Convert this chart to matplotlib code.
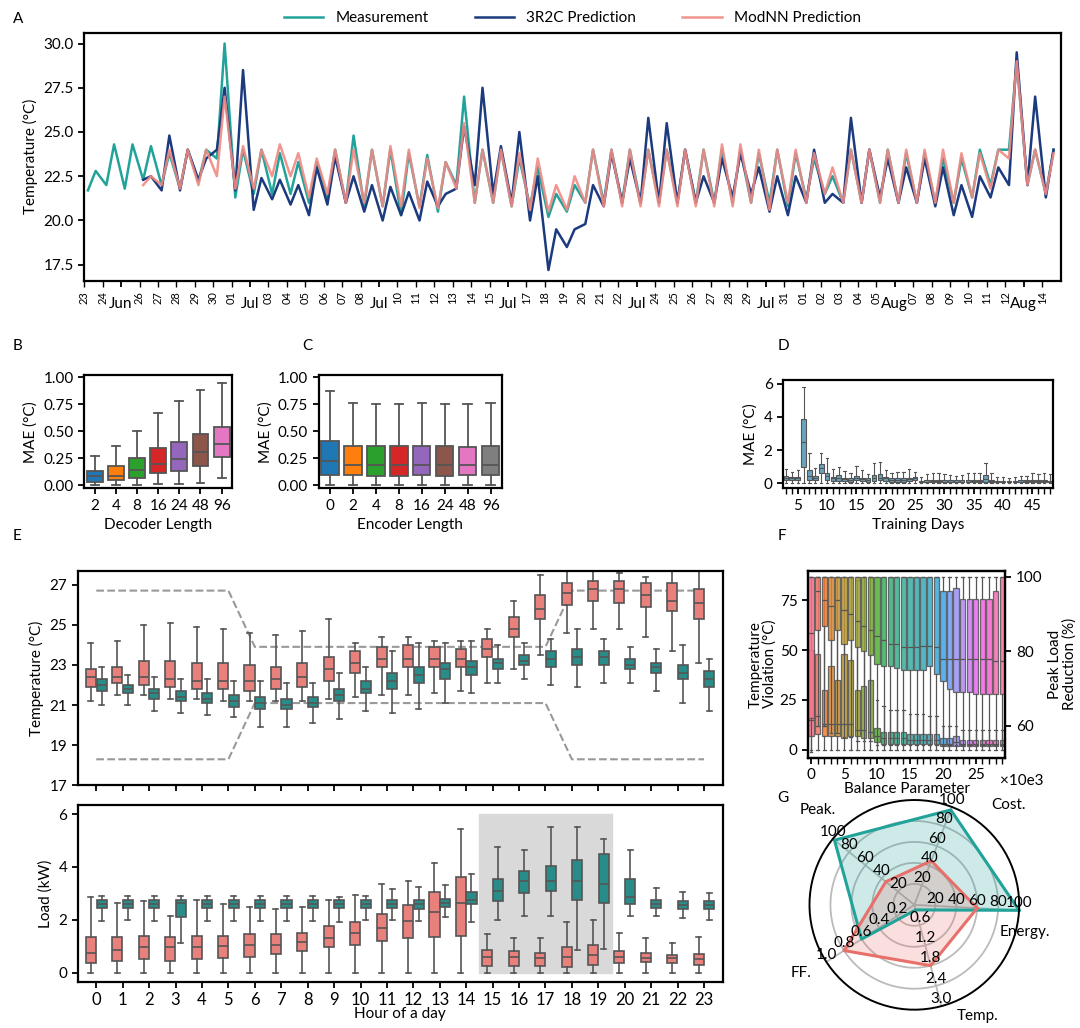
import numpy as np
import pandas as pd
import matplotlib
matplotlib.use("Agg")
import matplotlib.pyplot as plt
import seaborn as sns

plt.rcParams['font.family'] = ['Lato', 'DejaVu Sans']
plt.rcParams['font.size'] = 11

# ---------------- data ----------------
dates = pd.date_range("2023-06-23", "2023-08-14", freq="D")

# daily (min, max) of each series, from Jun 23
meas_min = [21.7, 22.0, 21.8, 22.3, 22.0, 21.8, 22.2, 23.5, 21.3, 21.5, 21.5, 21.5, 21.0, 21.2, 21.0, 20.8,
            20.8, 20.3, 20.8, 20.5, 22.0, 21.0, 21.0, 20.8, 20.8, 20.2, 20.5, 21.0, 21.0, 21.0, 21.0, 21.0,
            21.0, 21.0, 21.0, 21.0, 21.0, 21.0, 20.8, 21.2, 21.5, 21.0, 21.0, 21.0, 21.0, 21.0, 21.0, 21.0,
            21.3, 22.0, 24.0, 22.0, 21.5]
meas_max = [22.8, 24.3, 24.3, 24.2, 23.8, 24.0, 24.0, 30.0, 24.0, 24.0, 23.8, 23.3, 23.3, 24.0, 24.8, 24.0,
            24.0, 23.8, 23.7, 23.3, 27.0, 24.0, 24.0, 23.5, 23.0, 21.5, 22.0, 24.0, 24.0, 24.0, 24.0, 24.0,
            24.0, 24.0, 24.0, 24.0, 23.8, 24.0, 23.8, 23.5, 22.5, 24.0, 24.0, 24.0, 23.8, 23.8, 23.5, 23.5,
            24.0, 24.0, 29.0, 24.0, 24.0]
r2c_min = [None, None, None, 22.3, 21.7, 21.7, 22.3, 24.0, 21.7, 20.6, 21.2, 20.9, 20.3, 20.9, 21.0, 20.5,
           20.0, 20.3, 20.0, 20.8, 21.8, 22.0, 21.5, 21.0, 20.0, 17.2, 18.5, 19.8, 20.8, 21.0, 21.0, 21.0,
           21.0, 21.0, 21.0, 21.3, 21.5, 20.5, 20.3, 21.0, 21.0, 21.0, 21.0, 21.3, 21.0, 21.0, 20.8, 20.3,
           20.2, 21.3, 22.0, 22.0, 21.3]
r2c_max = [None, None, None, 22.5, 24.8, 24.0, 23.5, 27.5, 28.5, 22.4, 22.3, 22.0, 23.0, 23.6, 22.5, 22.0,
           21.9, 21.6, 22.2, 21.5, 25.3, 27.5, 24.2, 25.0, 22.5, 19.5, 19.5, 22.0, 23.8, 23.5, 25.8, 25.5,
           24.0, 22.5, 23.5, 23.8, 23.0, 22.5, 22.5, 24.0, 21.5, 25.8, 24.0, 23.5, 23.0, 23.5, 23.0, 22.0,
           22.5, 23.0, 29.5, 27.0, 24.0]
nn_min = [None, None, None, 22.0, 22.0, 21.8, 22.0, 22.5, 21.8, 21.8, 22.5, 22.5, 21.3, 21.5, 21.0, 21.0,
          20.8, 20.8, 20.7, 20.7, 21.8, 21.0, 21.0, 20.8, 20.6, 20.5, 20.6, 21.0, 20.8, 20.8, 20.8, 20.8,
          20.8, 20.8, 20.8, 20.8, 21.0, 20.6, 21.0, 21.0, 21.5, 21.0, 21.0, 21.0, 21.0, 21.0, 21.0, 21.0,
          21.3, 21.8, 23.5, 22.0, 21.5]
nn_max = [None, None, None, 22.5, 24.0, 24.0, 24.0, 27.0, 24.2, 24.0, 24.3, 23.8, 23.5, 24.0, 24.0, 24.0,
          24.2, 24.0, 23.5, 23.3, 25.5, 24.0, 24.0, 23.8, 23.5, 22.0, 22.5, 24.0, 24.0, 24.0, 24.0, 24.0,
          24.0, 24.0, 24.3, 24.3, 24.0, 24.0, 24.0, 23.8, 23.0, 24.0, 24.0, 24.0, 24.0, 24.0, 24.0, 23.8,
          23.8, 24.0, 29.0, 24.0, 23.8]

dec_labels = ["2", "4", "8", "16", "24", "48", "96"]
dec_stats = [(0, 0.03, 0.08, 0.13, 0.27), (0, 0.05, 0.08, 0.18, 0.36), (0, 0.07, 0.14, 0.25, 0.50),
             (0.01, 0.11, 0.20, 0.34, 0.67), (0.01, 0.13, 0.24, 0.40, 0.78), (0.02, 0.18, 0.31, 0.47, 0.88),
             (0.07, 0.26, 0.38, 0.54, 0.95)]
enc_labels = ["0", "2", "4", "8", "16", "24", "48", "96"]
enc_stats = [(0, 0.09, 0.22, 0.41, 0.87), (0, 0.09, 0.19, 0.36, 0.76), (0, 0.08, 0.19, 0.36, 0.75),
             (0, 0.08, 0.19, 0.36, 0.75), (0, 0.09, 0.19, 0.36, 0.76), (0, 0.08, 0.19, 0.36, 0.75),
             (0, 0.09, 0.19, 0.35, 0.75), (0, 0.09, 0.19, 0.36, 0.76)]

train_days = list(range(3, 49))
train_q1 = [0.2, 0.2, 0.2, 1.0, 0.2, 0.2, 0.6, 0.2, 0.15, 0.15, 0.15, 0.1, 0.2, 0.15, 0.1, 0.15, 0.2, 0.15,
            0.1, 0.1, 0.1, 0.15, 0.2, 0.05, 0.05, 0.05, 0.05, 0.05, 0.05, 0.05, 0.05, 0.05, 0.05, 0.05, 0.1,
            0.05, 0.05, 0.05, 0.05, 0.05, 0.05, 0.05, 0.05, 0.05, 0.05, 0.05]
train_med = [0.35, 0.3, 0.3, 2.5, 0.45, 0.3, 0.9, 0.45, 0.3, 0.3, 0.25, 0.2, 0.3, 0.25, 0.2, 0.3, 0.35, 0.3,
             0.2, 0.2, 0.2, 0.25, 0.3, 0.1, 0.1, 0.12, 0.12, 0.1, 0.1, 0.1, 0.1, 0.1, 0.12, 0.12, 0.25,
             0.12, 0.1, 0.1, 0.1, 0.1, 0.1, 0.12, 0.12, 0.12, 0.12, 0.1]
train_q3 = [0.45, 0.4, 0.4, 3.9, 0.8, 0.45, 1.15, 0.65, 0.4, 0.5, 0.35, 0.3, 0.45, 0.35, 0.3, 0.5, 0.55, 0.4,
            0.3, 0.3, 0.3, 0.35, 0.4, 0.15, 0.2, 0.2, 0.2, 0.2, 0.2, 0.2, 0.2, 0.2, 0.2, 0.2, 0.5, 0.2,
            0.15, 0.15, 0.15, 0.15, 0.2, 0.2, 0.2, 0.2, 0.2, 0.15]
train_hi = [0.85, 0.7, 0.8, 5.8, 1.8, 0.9, 1.8, 1.5, 0.85, 1.0, 0.75, 0.6, 1.05, 0.8, 0.55, 1.2, 1.3, 0.8,
            0.6, 0.7, 0.7, 0.85, 0.7, 0.4, 0.55, 0.6, 0.6, 0.55, 0.5, 0.45, 0.5, 0.6, 0.6, 0.6, 1.2, 0.6,
            0.4, 0.4, 0.35, 0.4, 0.45, 0.45, 0.6, 0.55, 0.65, 0.55]

hours = list(range(24))
temp_base = [(21.2, 21.9, 22.4, 22.8, 24.1), (21.5, 22.1, 22.4, 22.9, 24.2), (21.5, 22.0, 22.4, 23.2, 25.0),
             (21.3, 21.9, 22.3, 23.2, 25.1), (21.3, 21.8, 22.2, 23.1, 24.9), (21.2, 21.8, 22.2, 23.1, 24.8),
             (21.2, 21.7, 22.2, 23.0, 24.6), (21.2, 21.8, 22.3, 22.9, 24.5), (21.2, 21.9, 22.4, 23.1, 24.7),
             (21.3, 22.2, 22.8, 23.4, 25.3), (21.4, 22.6, 23.1, 23.7, 24.1), (21.5, 22.9, 23.3, 23.9, 24.4),
             (21.5, 22.9, 23.3, 24.0, 24.4), (21.6, 22.9, 23.3, 23.9, 24.2), (21.7, 22.9, 23.3, 23.8, 24.2),
             (22.1, 23.4, 23.8, 24.3, 24.8), (22.8, 24.4, 24.8, 25.4, 26.2), (23.5, 25.3, 25.8, 26.5, 27.5),
             (24.6, 26.0, 26.6, 27.1, 27.7), (24.8, 26.2, 26.8, 27.2, 27.7), (24.8, 26.1, 26.8, 27.2, 27.6),
             (24.4, 25.9, 26.5, 27.1, 27.4), (23.7, 25.7, 26.2, 27.1, 27.7), (23.1, 25.3, 26.1, 26.8, 27.7)]
temp_ctrl = [(21.0, 21.7, 22.0, 22.3, 22.9), (21.0, 21.6, 21.8, 22.0, 22.5), (20.7, 21.3, 21.6, 21.8, 22.4),
             (20.6, 21.2, 21.4, 21.7, 22.3), (20.5, 21.1, 21.3, 21.6, 22.3), (20.4, 20.9, 21.2, 21.5, 22.2),
             (19.9, 20.8, 21.1, 21.4, 22.2), (19.9, 20.8, 21.0, 21.3, 22.1), (20.1, 20.9, 21.1, 21.4, 22.1),
             (20.3, 21.2, 21.5, 21.8, 22.6), (20.7, 21.6, 21.8, 22.2, 22.9), (20.6, 21.8, 22.2, 22.6, 23.7),
             (20.8, 22.1, 22.5, 22.9, 24.1), (21.1, 22.3, 22.8, 23.1, 24.1), (21.6, 22.5, 22.9, 23.2, 24.2),
             (22.1, 22.8, 23.1, 23.3, 24.0), (22.3, 23.0, 23.2, 23.5, 24.1), (22.0, 22.9, 23.3, 23.7, 24.3),
             (21.9, 23.0, 23.4, 23.8, 24.8), (22.1, 23.0, 23.4, 23.7, 24.3), (22.1, 22.8, 23.0, 23.3, 23.9),
             (21.7, 22.6, 22.9, 23.1, 23.8), (21.1, 22.3, 22.6, 23.0, 24.0), (20.7, 21.9, 22.3, 22.7, 23.3)]
upper_bound = [26.7] * 6 + [23.9] * 12 + [26.7] * 6
lower_bound = [18.3] * 6 + [21.1] * 12 + [18.3] * 6

load_base = [(0, 0.35, 0.75, 1.35, 2.85), (0, 0.45, 0.85, 1.35, 2.65), (0, 0.5, 0.95, 1.4, 2.7),
             (0, 0.45, 0.95, 1.35, 2.15), (0, 0.5, 0.95, 1.4, 2.75), (0, 0.55, 1.0, 1.4, 2.6),
             (0, 0.6, 1.05, 1.45, 2.5), (0, 0.7, 1.05, 1.45, 2.4), (0, 0.8, 1.15, 1.5, 2.5),
             (0, 0.95, 1.3, 1.75, 2.75), (0, 1.05, 1.5, 1.9, 2.95), (0, 1.2, 1.7, 2.2, 3.35),
             (0, 1.3, 1.95, 2.55, 3.45), (0, 1.35, 2.3, 3.05, 4.15), (0, 1.4, 2.65, 3.6, 5.45),
             (0, 0.25, 0.6, 0.85, 1.45), (0, 0.25, 0.6, 0.8, 1.3), (0, 0.25, 0.55, 0.75, 1.3),
             (0, 0.2, 0.6, 0.95, 1.9), (0, 0.3, 0.65, 1.05, 2.0), (0, 0.35, 0.6, 0.8, 1.5),
             (0, 0.4, 0.55, 0.75, 1.3), (0, 0.35, 0.55, 0.65, 1.1), (0, 0.3, 0.5, 0.7, 1.35)]
load_ctrl = [(1.95, 2.45, 2.6, 2.75, 2.9), (2.0, 2.45, 2.6, 2.75, 2.9), (1.95, 2.45, 2.6, 2.75, 2.9),
             (1.1, 2.1, 2.65, 2.75, 2.9), (1.95, 2.45, 2.6, 2.75, 2.9), (1.95, 2.45, 2.6, 2.75, 2.9),
             (1.95, 2.45, 2.6, 2.75, 2.9), (1.95, 2.45, 2.6, 2.75, 2.9), (1.95, 2.45, 2.6, 2.75, 2.9),
             (1.9, 2.45, 2.6, 2.75, 2.85), (2.0, 2.45, 2.6, 2.75, 2.9), (2.0, 2.45, 2.6, 2.75, 3.15),
             (1.95, 2.4, 2.6, 2.75, 3.25), (2.1, 2.5, 2.65, 2.8, 3.3), (1.9, 2.6, 2.75, 3.05, 3.75),
             (2.0, 2.7, 3.1, 3.55, 4.75), (2.15, 3.0, 3.45, 3.85, 4.65), (2.15, 3.1, 3.45, 4.05, 5.5),
             (0.85, 2.75, 3.45, 4.25, 5.5), (0.9, 2.65, 3.35, 4.5, 5.05), (2.15, 2.6, 2.85, 3.55, 4.65),
             (2.15, 2.45, 2.6, 2.75, 3.2), (2.05, 2.4, 2.55, 2.7, 3.05), (2.0, 2.4, 2.55, 2.7, 3.0)]

bal_pos = list(range(30))
viol_stats = [(0, 7, 15, 50, 87), (0, 8, 17, 48, 87), (0, 7, 13, 30, 87), (0, 7, 13, 42, 87), (0, 7, 13, 35, 87),
              (0, 6, 13, 48, 87), (0, 7, 13, 45, 87), (0, 7, 10, 30, 85), (0, 6, 10, 32, 87), (0, 6, 9, 35, 87),
              (0, 4, 7, 11, 25), (0, 3, 6, 9, 22), (0, 3, 6, 9, 20), (0, 3, 6, 9, 20), (0, 3, 6, 9, 20),
              (0, 3, 5, 8, 18), (0, 3, 5, 8, 18), (0, 3, 5, 8, 18), (0, 3, 5, 8, 17), (0, 3, 5, 8, 17),
              (0, 2, 3, 6, 12), (0, 2, 3, 6, 12), (0, 2, 4, 7, 12), (0, 2, 3, 5, 10), (0, 2, 3, 5, 10),
              (0, 2, 3, 5, 10), (0, 2, 3, 5, 10), (0, 2, 3, 5, 10), (0, 2, 3, 5, 10), (0, 2, 3, 5, 10)]
peak_stats = [(53, 62, 85, 100, 100), (60, 85.6, 96, 100, 100), (60, 86.7, 93.6, 100, 100), (58, 83, 92, 100, 100),
              (58, 85.6, 93.6, 100, 100), (57, 82, 91, 100, 100), (57, 83, 90, 100, 100), (56, 81, 88, 100, 100),
              (56, 80, 86.7, 100, 100), (56, 79, 85.6, 100, 100), (55, 76.5, 84, 100, 100), (55, 76, 83, 100, 100),
              (55, 76, 82, 100, 100), (55, 75.5, 82, 100, 100), (55, 75, 81, 100, 100), (55, 75, 81, 100, 100),
              (55, 75, 81, 100, 100), (55, 75, 81.5, 100, 100), (55, 76, 81.5, 100, 100), (55, 74, 81, 100, 100),
              (55, 72, 78, 96, 100), (55, 70, 78, 96, 100), (55, 69, 78, 97, 100), (55, 69, 78, 94, 100),
              (55, 69, 78, 94, 100), (55, 68.5, 78, 94, 100), (55, 68.5, 78, 94, 100), (55, 68.5, 78, 94, 100),
              (55, 68.5, 77.5, 96, 100), (55, 68.5, 77.5, 100, 100)]

radar_axes = ["Energy.", "Cost.", "Peak.", "FF.", "Temp."]
radar_max = [100, 100, 100, 1.0, 3.0]
radar_ticks = [["20", "40", "60", "80", "100"], ["20", "40", "60", "80", "100"], ["20", "40", "60", "80", "100"],
               ["0.2", "0.4", "0.6", "0.8", "1.0"], ["0.6", "1.2", "1.8", "2.4", "3.0"]]
radar_ctrl = [100, 97, 98, 0.6, 0.15]
radar_base = [60, 45, 35, 0.8, 1.8]

# ---------------- style ----------------
c_meas = "#22a39a"
c_r2c = "#1c3a7e"
c_nn = "#ef8a84"
c_red = "#e8817c"
c_teal = "#2a8c88"
grey = "#555555"

fig = plt.figure(figsize=(10.8, 10.28), dpi=100)


def bx(ax, stats, positions, colors, width=0.6, lw=1.3, alpha=1.0):
    recs = [dict(whislo=s[0], q1=s[1], med=s[2], q3=s[3], whishi=s[4]) for s in stats]
    b = ax.bxp(recs, positions=positions, widths=width, showfliers=False, patch_artist=True,
               boxprops=dict(edgecolor=grey, linewidth=lw), whiskerprops=dict(color=grey, linewidth=lw),
               capprops=dict(color=grey, linewidth=lw), medianprops=dict(color=grey, linewidth=lw),
               manage_ticks=False)
    for p, c in zip(b["boxes"], colors):
        p.set_facecolor(c)
        p.set_alpha(alpha)
    return b


def frame(ax):
    for s in ax.spines.values():
        s.set_linewidth(1.6)
    ax.tick_params(width=1.3, length=4)


# ---------------- A ----------------
axA = fig.add_axes([0.078, 0.727, 0.904, 0.241])


def series(mins, maxs):
    x, y = [], []
    for d, (lo, hi) in enumerate(zip(mins, maxs)):
        if lo is None:
            continue
        x += [d + 0.2, d + 0.62]
        y += [lo, hi]
    return x, y


x, y = series(meas_min, meas_max)
axA.plot(x, y, color=c_meas, lw=1.8, label="Measurement")
x, y = series(r2c_min, r2c_max)
axA.plot(x, y, color=c_r2c, lw=1.8, label="3R2C Prediction")
x, y = series(nn_min, nn_max)
axA.plot(x, y, color=c_nn, lw=1.8, alpha=0.9, label="ModNN Prediction")
axA.set_xlim(0, len(dates))
axA.set_ylim(16.6, 30.6)
axA.set_yticks([17.5, 20.0, 22.5, 25.0, 27.5, 30.0])
axA.set_ylabel("Temperature (°C)")
major_idx = [i for i, d in enumerate(dates) if d.dayofweek == 6]
minor_idx = [i for i in range(len(dates)) if i not in major_idx]
axA.set_xticks(major_idx)
axA.set_xticklabels([dates[i].strftime("%b") for i in major_idx], fontsize=11)
axA.tick_params(axis="x", which="major", length=7, pad=8)
axA.set_xticks(minor_idx, minor=True)
axA.set_xticklabels([dates[i].strftime("%d") for i in minor_idx], minor=True, rotation=90, fontsize=8)
axA.tick_params(axis="x", which="minor", length=4, width=1.0)
frame(axA)
axA.legend(loc="lower center", bbox_to_anchor=(0.5, 1.0), ncol=3, frameon=False, fontsize=11,
           handlelength=2.6, columnspacing=3, borderaxespad=0.1)

# ---------------- B ----------------
tab = sns.color_palette("tab10")
axB = fig.add_axes([0.078, 0.525, 0.137, 0.11])
bx(axB, dec_stats, range(7), tab[:7], width=0.75)
axB.set_xticks(range(7))
axB.set_xticklabels(dec_labels)
axB.set_xlim(-0.5, 6.5)
axB.set_ylim(-0.03, 1.02)
axB.set_yticks([0, 0.25, 0.5, 0.75, 1.0])
axB.set_yticklabels(["0.00", "0.25", "0.50", "0.75", "1.00"])
axB.set_ylabel("MAE (°C)")
axB.set_xlabel("Decoder Length")
frame(axB)

# ---------------- C ----------------
axC = fig.add_axes([0.295, 0.525, 0.17, 0.11])
bx(axC, enc_stats, range(8), tab[:8], width=0.75)
axC.set_xticks(range(8))
axC.set_xticklabels(enc_labels)
axC.set_xlim(-0.5, 7.5)
axC.set_ylim(-0.03, 1.02)
axC.set_yticks([0, 0.25, 0.5, 0.75, 1.0])
axC.set_yticklabels(["0.00", "0.25", "0.50", "0.75", "1.00"])
axC.set_ylabel("MAE (°C)")
axC.set_xlabel("Encoder Length")
frame(axC)

# ---------------- D ----------------
axD = fig.add_axes([0.725, 0.525, 0.25, 0.105])
d_stats = [(0, a, b, c, d) for a, b, c, d in zip(train_q1, train_med, train_q3, train_hi)]
bx(axD, d_stats, train_days, ["#6aa3bd"] * len(train_days), width=0.8, lw=0.8)
axD.set_xlim(2.5, 48.5)
axD.set_xticks(train_days, minor=True)
axD.set_xticks([5, 10, 15, 20, 25, 30, 35, 40, 45])
axD.set_ylim(-0.3, 6.2)
axD.set_yticks([0, 2, 4, 6])
axD.set_ylabel("MAE (°C)")
axD.set_xlabel("Training Days")
frame(axD)
axD.tick_params(axis="x", which="minor", length=4, width=1.0)

# ---------------- E ----------------
h = np.array(hours)
axE1 = fig.add_axes([0.072, 0.236, 0.597, 0.209])
axE1.plot(hours, upper_bound, ls="--", color="#999999", lw=1.5)
axE1.plot(hours, lower_bound, ls="--", color="#999999", lw=1.5)
bx(axE1, temp_base, h - 0.2, [c_red] * 24, width=0.38, lw=1.2)
bx(axE1, temp_ctrl, h + 0.2, [c_teal] * 24, width=0.38, lw=1.2)
axE1.set_xlim(-0.7, 23.7)
axE1.set_ylim(17, 27.7)
axE1.set_yticks([17, 19, 21, 23, 25, 27])
axE1.set_xticks(hours)
axE1.set_xticklabels([])
axE1.set_ylabel("Temperature (°C)")
frame(axE1)

axE2 = fig.add_axes([0.072, 0.045, 0.597, 0.172])
axE2.fill_between([14.5, 19.5], 0, 6, color="#d9d9d9", zorder=0)
bx(axE2, load_base, h - 0.2, [c_red] * 24, width=0.38, lw=1.2)
bx(axE2, load_ctrl, h + 0.2, [c_teal] * 24, width=0.38, lw=1.2)
axE2.set_xlim(-0.7, 23.7)
axE2.set_ylim(-0.35, 6.35)
axE2.set_yticks([0, 2, 4, 6])
axE2.set_xticks(hours)
axE2.set_xticklabels([str(v) for v in hours], fontsize=12)
axE2.set_ylabel("Load (kW)")
axE2.set_xlabel("Hour of a day", labelpad=-1)
frame(axE2)

# ---------------- F ----------------
axF = fig.add_axes([0.748, 0.263, 0.183, 0.182])
pal = sns.color_palette("husl", 30)
axF2 = axF.twinx()
bx(axF2, peak_stats, bal_pos, pal, width=0.8, lw=0.9, alpha=0.85)
bx(axF, viol_stats, bal_pos, pal, width=0.8, lw=0.9, alpha=0.85)
axF.set_xlim(-0.5, 29.5)
axF.set_ylim(-4, 90)
axF2.set_ylim(51.5, 101.6)
axF.set_yticks([0, 25, 50, 75])
axF2.set_yticks([60, 80, 100])
axF.set_xticks(bal_pos, minor=True)
axF.set_xticks([0, 5, 10, 15, 20, 25])
axF.set_xticklabels(["0", "5", "10", "15", "20", "25"])
axF.text(0.97, -0.085, "×10e3", transform=axF.transAxes, ha="left", va="top", fontsize=11)
axF.set_ylabel("Temperature\nViolation (°C)", labelpad=2, linespacing=1.0)
axF2.set_ylabel("Peak Load\nReduction (%)", linespacing=1.0)
axF.set_xlabel("Balance Parameter", labelpad=0)
frame(axF)
frame(axF2)
axF.tick_params(axis="x", which="minor", length=4, width=1.0)

# ---------------- G (radar drawn on plain axes) ----------------
axG = fig.add_axes([0.70, 0.0, 0.30, 0.26])
axG.set_aspect("equal")
axG.set_xlim(-1.51, 1.58)
axG.set_ylim(-1.17, 1.37)
axG.axis("off")
ang = np.deg2rad(-3) + np.arange(5) * 2 * np.pi / 5
t = np.linspace(0, 2 * np.pi, 200)
for rr in [0.2, 0.4, 0.6, 0.8]:
    axG.plot(rr * np.cos(t), rr * np.sin(t), color="#bbbbbb", lw=1.3, zorder=1)
axG.plot(np.cos(t), np.sin(t), color="black", lw=1.4, zorder=4)
for a in ang:
    axG.plot([0, np.cos(a)], [0, np.sin(a)], color="#bbbbbb", lw=1.3, zorder=1)
for vals, col in [(radar_ctrl, c_meas), (radar_base, "#e8706b")]:
    r = np.array([v / m for v, m in zip(vals, radar_max)])
    xs = np.append(r * np.cos(ang), r[0] * np.cos(ang[0]))
    ys = np.append(r * np.sin(ang), r[0] * np.sin(ang[0]))
    axG.fill(xs, ys, color=col, alpha=0.22, zorder=2)
    axG.plot(xs, ys, color=col, lw=2.2, zorder=3)
for k in range(5):
    for j, lab in enumerate(radar_ticks[k]):
        rr = 0.2 * (j + 1)
        axG.text(rr * np.cos(ang[k]), rr * np.sin(ang[k]) + 0.07, lab, fontsize=11,
                 ha="center", va="center", zorder=5)
name_pos = [(1.05, -0.26), (0.9, 0.95), (-0.92, 0.9), (-1.08, -0.65), (0.6, -1.06)]
for k in range(5):
    axG.text(name_pos[k][0], name_pos[k][1], radar_axes[k], fontsize=11, ha="center", va="center", zorder=6)

# panel letters
for lab, xx, yy in [("A", 0.012, 0.978), ("B", 0.012, 0.66), ("C", 0.28, 0.66), ("D", 0.72, 0.66),
                    ("E", 0.012, 0.475), ("F", 0.72, 0.475), ("G", 0.72, 0.22)]:
    fig.text(xx, yy, lab, fontsize=11)

fig.savefig("out.png", dpi=100)
